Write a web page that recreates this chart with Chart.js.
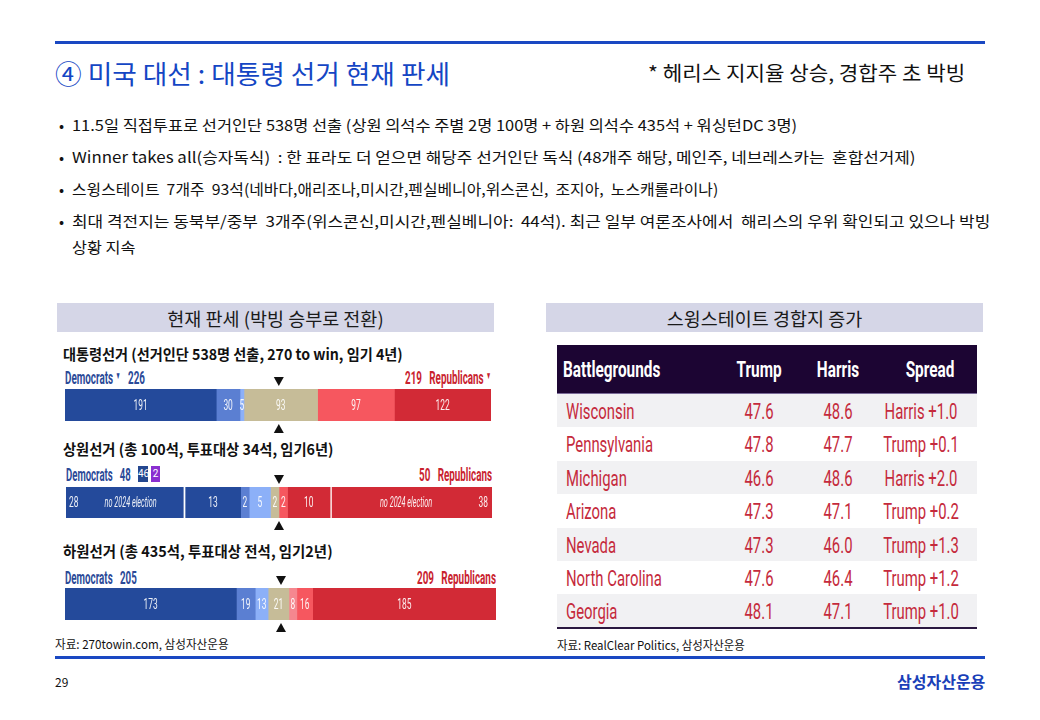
<!DOCTYPE html>
<html>
<head>
<meta charset="utf-8">
<script src="https://cdn.jsdelivr.net/npm/chart.js@4.4.0/dist/chart.umd.min.js"></script>
<style>
  body { margin: 0; background: #fff; }
  #page { position: relative; width: 1040px; height: 720px; overflow: hidden; font-family: "Noto Sans CJK KR", sans-serif; color: #111; }
  .t { position: absolute; white-space: nowrap; line-height: 1; transform-origin: 0 50%; }
  .rule { position: absolute; left: 55px; width: 930px; height: 3px; background: #1a48c2; }
  .box { position: absolute; top: 303px; width: 437px; height: 29px; background: #d5d6e7; font-size: 18.5px; display: flex; align-items: center; justify-content: center; color: #1a1a1a; }
  .party { position: absolute; white-space: nowrap; line-height: 1; font-family: Roboto, sans-serif; font-weight: bold; font-size: 19px; transform-origin: 0 50%; }
  .dem { color: #2b4a98; }
  .rep { color: #c9232f; }
  .tri { font-size: 10px; vertical-align: 5px; }
  .chip { position: absolute; top: 466px; height: 16px; color: #fff; font-family: Roboto, sans-serif; font-size: 10px; line-height: 16px; text-align: center; }
  .cbox { position: absolute; }
  .row { position: absolute; left: 557px; width: 420px; }
  .cell { position: absolute; white-space: nowrap; line-height: 1; font-family: Roboto, sans-serif; transform-origin: 0 50%; }
</style>
</head>
<body>
<div id="page">
  <div class="rule" style="top:41px"></div>
  <div class="t" data-w="395" style="left:55px;top:60px;font-size:26px;color:#1446c4;">④ 미국 대선 : 대통령 선거 현재 판세</div>
  <div class="t" data-w="317" style="left:648px;top:63px;font-size:20px;">* 헤리스 지지율 상승, 경합주 초 박빙</div>

  <div class="t" style="left:59px;top:117px;font-size:15px;">•</div>
  <div class="t" data-w="725" style="left:72px;top:117px;font-size:15px;">11.5일 직접투표로 선거인단 538명 선출 (상원 의석수 주별 2명 100명 + 하원 의석수 435석 + 워싱턴DC 3명)</div>
  <div class="t" style="left:59px;top:149px;font-size:15px;">•</div>
  <div class="t" data-w="844" style="left:72px;top:149px;font-size:15px;">Winner takes all(승자독식) &nbsp;: 한 표라도 더 얻으면 해당주 선거인단 독식 (48개주 해당, 메인주, 네브레스카는 &nbsp;혼합선거제)</div>
  <div class="t" style="left:59px;top:181px;font-size:15px;">•</div>
  <div class="t" data-w="646" style="left:72px;top:181px;font-size:15px;">스윙스테이트 &nbsp;7개주 &nbsp;93석(네바다,애리조나,미시간,펜실베니아,위스콘신, &nbsp;조지아, &nbsp;노스캐롤라이나)</div>
  <div class="t" style="left:59px;top:213px;font-size:15px;">•</div>
  <div class="t" data-w="918" style="left:72px;top:213px;font-size:15px;">최대 격전지는 동북부/중부 &nbsp;3개주(위스콘신,미시간,펜실베니아: &nbsp;44석). 최근 일부 여론조사에서 &nbsp;해리스의 우위 확인되고 있으나 박빙</div>
  <div class="t" data-w="64" style="left:72px;top:239px;font-size:15px;">상황 지속</div>

  <div class="box" style="left:57px">현재 판세 (박빙 승부로 전환)</div>
  <div class="box" style="left:546px">스윙스테이트 경합지 증가</div>

  <!-- 대통령선거 -->
  <div class="t" data-w="340" style="left:63px;top:346px;font-size:15px;font-weight:bold;">대통령선거 (선거인단 538명 선출, 270 to win, 임기 4년)</div>
  <div class="party dem" data-w="80" style="left:65px;top:368px;">Democrats <span class="tri">▼</span>&nbsp;&nbsp; <span id="dem0"></span></div>
  <div class="party rep" data-w="86" style="left:405px;top:368px;"><span id="rep0"></span>&nbsp;&nbsp; Republicans <span class="tri">▼</span></div>
  <div class="cbox" style="left:65px;top:375px;width:426px;height:60px;"><canvas id="presChart"></canvas></div>

  <!-- 상원선거 -->
  <div class="t" data-w="270" style="left:63px;top:441px;font-size:15px;font-weight:bold;">상원선거 (총 100석, 투표대상 34석, 임기6년)</div>
  <div class="party dem" data-w="65" style="left:66px;top:465px;">Democrats&nbsp;&nbsp; <span id="dem1"></span></div>
  <div class="chip" id="held0" style="left:138px;width:10px;background:#24478f"></div>
  <div class="chip" id="held1" style="left:151px;width:9px;background:#8a2fd0"></div>
  <div class="party rep" data-w="73" style="left:419px;top:465px;"><span id="rep1"></span>&nbsp;&nbsp; Republicans</div>
  <div class="cbox" style="left:66px;top:473px;width:426px;height:59px;"><canvas id="senateChart"></canvas></div>

  <!-- 하원선거 -->
  <div class="t" data-w="270" style="left:63px;top:543px;font-size:15px;font-weight:bold;">하원선거 (총 435석, 투표대상 전석, 임기2년)</div>
  <div class="party dem" data-w="72" style="left:65px;top:568px;">Democrats&nbsp;&nbsp; <span id="dem2"></span></div>
  <div class="party rep" data-w="79" style="left:417px;top:568px;"><span id="rep2"></span>&nbsp;&nbsp; Republicans</div>
  <div class="cbox" style="left:65px;top:574px;width:431px;height:60px;"><canvas id="houseChart"></canvas></div>

  <div class="t" data-w="174" style="left:55px;top:638px;font-size:12px;">자료: 270towin.com, 삼성자산운용</div>

  <div id="tbl"></div>
  <div class="t" data-w="188" style="left:557px;top:639px;font-size:12px;">자료: RealClear Politics, 삼성자산운용</div>

  <div class="rule" style="top:656px"></div>
  <div class="t" style="left:55px;top:676px;font-size:12px;">29</div>
  <div class="t" data-w="88" style="left:897px;top:673px;font-size:16px;font-weight:bold;color:#1a3fb8;">삼성자산운용</div>
</div>

<script>
// 의석 구성 (민주 우세 → 경합 → 공화 우세 순)
const presSeats = [191, 30, 5, 93, 97, 122];
const senateSeats = [28, 13, 2, 5, 2, 2, 10, 38];
const senateNotes = ['no 2024 election', '', '', '', '', '', '', 'no 2024 election'];
const senateHeld = [46, 2];
const houseSeats = [173, 19, 13, 21, 8, 16, 185];
const raceTotals = [538, 100, 435];
const winLines = [270, 50, 218];
const demTotals = [226, 48, 205];
const repTotals = [219, 50, 209];

// RealClear Politics 경합주 지지율
const tableHeader = ['Battlegrounds', 'Trump', 'Harris', 'Spread'];
const states = ['Wisconsin', 'Pennsylvania', 'Michigan', 'Arizona', 'Nevada', 'North Carolina', 'Georgia'];
const trumpPct = [47.6, 47.8, 46.6, 47.3, 47.3, 47.6, 48.1];
const harrisPct = [48.6, 47.7, 48.6, 47.1, 46.0, 46.4, 47.1];

// colours
const C = {
  safeD: '#244a9b', likelyD: '#5b7fd2', leanD: '#8cb0f8', toss: '#c6bc98',
  leanR: '#f5878f', likelyR: '#f6575f', safeR: '#d22a36'
};
const presColors = [C.safeD, C.likelyD, C.leanD, C.toss, C.likelyR, C.safeR];
const senateColors = [C.safeD, C.safeD, C.likelyD, C.leanD, C.toss, C.likelyR, C.safeR, C.safeR];
const houseColors = [C.safeD, C.likelyD, C.leanD, C.toss, C.leanR, C.likelyR, C.safeR];

function squeezeText(ctx, txt, x, y, align, sx) {
  ctx.save();
  ctx.translate(x, y);
  ctx.scale(sx, 1);
  ctx.textAlign = align;
  ctx.fillText(txt, 0, 0);
  ctx.restore();
}

// numbers inside the segments
const segLabels = {
  id: 'segLabels',
  afterDatasetsDraw(chart) {
    const ctx = chart.ctx;
    ctx.save();
    ctx.fillStyle = 'rgba(255,255,255,0.92)';
    ctx.textBaseline = 'middle';
    chart.data.datasets.forEach((ds, i) => {
      const el = chart.getDatasetMeta(i).data[0];
      const x0 = Math.min(el.base, el.x), x1 = Math.max(el.base, el.x), y = el.y + 1;
      ctx.font = '15px Roboto, sans-serif';
      if (ds.note) {
        squeezeText(ctx, String(ds.data[0]), i == 0 ? x0 + 3 : x1 - 4, y, i == 0 ? 'left' : 'right', 0.56);
        ctx.font = 'italic 14px Roboto, sans-serif';
        squeezeText(ctx, ds.note, (x0 + x1) / 2 + (i == 0 ? 5 : -5), y, 'center', 0.52);
      } else {
        squeezeText(ctx, String(ds.data[0]), (x0 + x1) / 2, y, 'center', 0.56);
      }
    });
    ctx.restore();
  }
};

// ▼ ▲ at the majority line
const winMarker = {
  id: 'winMarker',
  afterDraw(chart, args, opts) {
    const ctx = chart.ctx;
    const x = chart.scales.x.getPixelForValue(opts.value);
    const { top, bottom } = chart.chartArea;
    ctx.save();
    ctx.fillStyle = '#111';
    ctx.beginPath(); ctx.moveTo(x - 5, top - 12); ctx.lineTo(x + 5, top - 12); ctx.lineTo(x, top - 3); ctx.fill();
    ctx.beginPath(); ctx.moveTo(x - 5, bottom + 12); ctx.lineTo(x + 5, bottom + 12); ctx.lineTo(x, bottom + 3); ctx.fill();
    ctx.restore();
  }
};

function seatBar(id, seats, colors, total, win, notes) {
  const last = seats.length - 1;
  const datasets = seats.map((v, i) => {
    const note = notes ? notes[i] : '';
    let bw = 0;
    if (note && i == 0) bw = { top: 0, bottom: 0, left: 0, right: 2 };
    if (note && i == last) bw = { top: 0, bottom: 0, left: 2, right: 0 };
    return { data: [v], backgroundColor: colors[i], borderColor: '#fff', borderWidth: bw, borderSkipped: false, note: note };
  });
  return new Chart(document.getElementById(id), {
    type: 'bar',
    data: { labels: [''], datasets: datasets },
    options: {
      indexAxis: 'y',
      responsive: true,
      maintainAspectRatio: false,
      animation: false,
      events: [],
      layout: { padding: { top: 14, bottom: 14, left: 0, right: 0 } },
      datasets: { bar: { barPercentage: 1, categoryPercentage: 1 } },
      scales: {
        x: { stacked: true, min: 0, max: total, display: false },
        y: { stacked: true, display: false }
      },
      plugins: { legend: { display: false }, tooltip: { enabled: false }, winMarker: { value: win } }
    },
    plugins: [segLabels, winMarker]
  });
}

seatBar('presChart', presSeats, presColors, raceTotals[0], winLines[0]);
seatBar('senateChart', senateSeats, senateColors, raceTotals[1], winLines[1], senateNotes);
seatBar('houseChart', houseSeats, houseColors, raceTotals[2], winLines[2]);

for (let i = 0; i < 3; i++) {
  document.getElementById('dem' + i).textContent = demTotals[i];
  document.getElementById('rep' + i).textContent = repTotals[i];
}
document.getElementById('held0').textContent = senateHeld[0];
document.getElementById('held1').textContent = senateHeld[1];

// battleground table
const tbl = document.getElementById('tbl');
const tblTop = 345, headH = 49, rowH = 33.4;
const colX = [566, 759, 838, 921];
const headX = [563, 759, 838, 930];

function addCell(text, x, cy, size, color, bold, centered, group) {
  const d = document.createElement('div');
  d.className = 'cell ' + group;
  d.textContent = text;
  d.style.left = x + 'px';
  d.style.top = (cy - size * 0.49) + 'px';
  d.style.fontSize = size + 'px';
  d.style.color = color;
  if (bold) d.style.fontWeight = 'bold';
  d.dataset.center = centered ? '1' : '';
  tbl.appendChild(d);
  return d;
}

let bg = document.createElement('div');
bg.className = 'row';
bg.style.cssText += 'top:' + tblTop + 'px;height:' + headH + 'px;background:#1c0533;border-bottom:1px solid #7a6a98;box-sizing:border-box;';
tbl.appendChild(bg);
tableHeader.forEach((h, j) => addCell(h, headX[j], tblTop + headH / 2, 22, '#fff', true, j > 0, 'hd'));

states.forEach((s, i) => {
  const top = tblTop + headH + i * rowH;
  const r = document.createElement('div');
  r.className = 'row';
  r.style.top = top + 'px';
  r.style.height = rowH + 'px';
  r.style.background = i % 2 == 0 ? '#f1f1f3' : '#ffffff';
  tbl.appendChild(r);
  const diff = Math.abs(trumpPct[i] - harrisPct[i]).toFixed(1);
  const lead = trumpPct[i] > harrisPct[i] ? 'Trump' : 'Harris';
  const vals = [s, trumpPct[i].toFixed(1), harrisPct[i].toFixed(1), lead + ' +' + diff];
  vals.forEach((v, j) => addCell(v, colX[j], top + rowH / 2 + 1, 22, '#c52a3c', false, j > 0, 'bd'));
});
const endLine = document.createElement('div');
endLine.className = 'row';
endLine.style.cssText += 'top:' + (tblTop + headH + states.length * rowH - 1) + 'px;height:2px;background:#2a1840;';
tbl.appendChild(endLine);

// squeeze table text: header to "Battlegrounds" width, body to "North Carolina" width
function squeezeGroup(group, refText, refW) {
  const els = Array.from(document.querySelectorAll('.cell.' + group));
  const ref = els.find(e => e.textContent == refText);
  const f = refW / ref.offsetWidth;
  els.forEach(e => {
    e.style.transform = e.dataset.center ? 'scaleX(' + f.toFixed(3) + ') translateX(-50%)' : 'scaleX(' + f.toFixed(3) + ')';
  });
}
squeezeGroup('hd', 'Battlegrounds', 97);
squeezeGroup('bd', 'North Carolina', 96);

// squeeze text to the widths in the slide
document.querySelectorAll('[data-w]').forEach(el => {
  el.style.transform = 'scaleX(' + (el.dataset.w / el.offsetWidth).toFixed(3) + ')';
});
</script>
</body>
</html>
